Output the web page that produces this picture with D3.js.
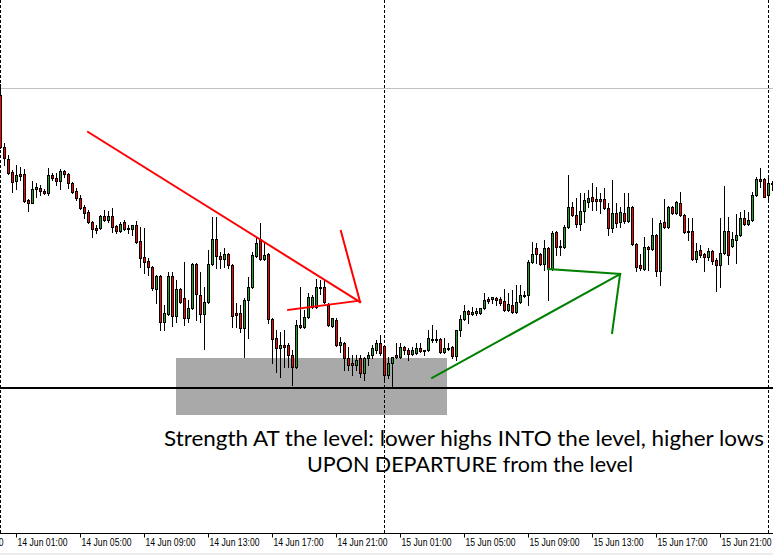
<!DOCTYPE html>
<html><head><meta charset="utf-8">
<script src="https://cdn.jsdelivr.net/npm/d3@7"></script>
<style>
html,body{margin:0;padding:0;background:#fff;}
svg{display:block;}
</style></head>
<body>
<svg id="chart" width="773" height="555"></svg>
<script>
// M15 bars, 14 Jun 00:00 .. 16 Jun 00:15 ; prices in points above 1.2000 (1 pt = 0.0001)
const openPts = [505,453,441,428,419,426,426,400,397,411,
412,409,407,425,422,419,429,426,417,409,
402,393,388,378,372,372,384,380,384,374,
369,378,372,371,375,359,343,339,333,311,
324,278,286,324,284,311,302,282,292,336,
305,286,298,336,361,344,341,346,335,287,
287,272,300,313,344,361,341,346,281,262,
252,255,255,245,233,275,273,283,293,293,
313,313,295,274,280,255,257,242,237,235,
242,227,242,245,250,257,254,225,237,245,
243,253,250,246,247,252,250,250,261,260,
261,248,252,253,244,270,281,289,286,287,
287,292,301,301,302,301,299,290,295,288,
298,305,305,338,352,346,336,352,331,368,
354,353,373,393,385,376,389,398,403,401,
401,401,392,372,387,378,387,379,393,356,
335,331,353,351,365,329,378,373,393,387,
397,385,369,369,341,350,346,343,349,340,
335,347,369,354,360,365,382,376,380,405,
421,421,405,417];
const highPts = [516,457,445,430,435,433,431,401,419,417,
415,411,432,427,427,431,430,427,418,412,
405,395,390,379,375,385,390,389,392,375,
378,380,375,375,379,373,372,342,334,325,
325,295,328,328,320,312,338,300,337,337,
328,313,350,383,383,348,352,347,336,297,
295,302,323,348,363,377,357,347,282,270,
268,270,257,250,280,313,290,307,305,321,
320,320,297,282,282,263,258,253,245,245,
245,243,248,255,260,265,255,243,243,257,
257,254,252,253,257,257,250,270,275,270,
262,262,257,254,270,285,295,290,293,292,
292,307,303,303,303,303,311,307,310,315,
315,309,340,358,357,347,360,353,369,369,
360,375,425,398,402,407,407,410,417,413,
407,412,397,420,397,393,407,407,394,357,
346,363,354,382,366,380,401,394,394,399,
408,386,382,382,357,355,347,352,350,342,
382,414,383,368,386,388,390,388,408,423,
432,422,422,419];
const lowPts = [452,435,426,408,411,420,398,389,397,403,
405,406,405,420,415,411,423,412,407,400,
391,382,377,363,367,371,379,378,368,367,
368,370,367,365,357,333,327,325,310,297,
270,270,285,274,278,297,275,278,291,280,
278,251,297,335,332,332,333,332,273,273,
268,243,262,312,343,340,340,277,237,228,
223,233,233,215,232,272,272,282,292,292,
306,297,274,273,254,248,230,230,225,230,
223,220,235,242,247,245,218,222,213,242,
242,246,240,245,246,248,245,249,258,258,
247,247,250,242,240,264,280,277,285,285,
286,291,297,297,295,295,289,289,287,287,
297,303,295,337,337,335,330,300,330,345,
345,352,372,384,373,370,378,393,390,390,
387,391,365,368,373,373,377,378,355,329,
330,330,330,350,324,315,372,372,386,386,
384,367,360,340,338,343,329,340,336,309,
313,346,336,353,337,364,375,375,379,404,
413,403,400,410];
const closePts = [453,442,427,418,425,424,399,397,411,413,
409,407,425,422,419,429,426,417,408,402,
392,387,378,371,370,384,380,384,373,369,
376,371,371,375,358,342,338,333,312,324,
278,287,324,284,311,298,282,292,336,306,
286,298,336,361,344,341,346,335,284,285,
272,300,313,345,357,341,345,281,261,252,
255,253,245,233,275,273,283,303,303,313,
312,298,275,282,255,258,242,235,235,240,
227,242,245,252,257,247,225,237,243,243,
253,250,246,250,252,249,249,262,260,261,
248,252,251,244,270,281,289,286,288,289,
292,300,299,303,300,297,290,296,288,298,
305,304,338,346,346,336,352,331,367,353,
353,373,393,385,376,389,400,402,399,399,
399,392,372,387,377,388,379,393,356,333,
332,353,351,365,329,377,373,393,387,398,
385,368,368,341,349,345,343,349,339,335,
347,369,345,361,365,382,376,380,405,421,
419,403,417,416];

// time axis labels (bar index of each label)
const tickBars   = [-12, 4, 20, 36, 52, 68, 84, 100, 116, 132, 148, 164, 180];
const tickLabels = ["13 Jun 21:00","14 Jun 01:00","14 Jun 05:00","14 Jun 09:00","14 Jun 13:00",
  "14 Jun 17:00","14 Jun 21:00","15 Jun 01:00","15 Jun 05:00","15 Jun 09:00","15 Jun 13:00",
  "15 Jun 17:00","15 Jun 21:00"];
const daySeparators = [0, 96, 192];

// drawing objects (bar index, points)
const hLevels = [{pts:511.5, color:"#c0c0c0", w:1}, {pts:212, color:"#000000", w:2}];
const zoneBox = {i0:43.9, i1:111.6, top:242, bottom:185};
const redLines = [
  {i0:21.9, p0:468, i1:89.9, p1:298},
  {i0:85.1, p0:369, i1:89.9, p1:298},
  {i0:71.9, p0:290, i1:89.1, p1:299}
];
const greenLines = [
  {i0:107.9, p0:222, i1:154.9, p1:326},
  {i0:136.9, p0:331, i1:154.9, p1:326},
  {i0:152.9, p0:267, i1:154.9, p1:326}
];
const noteLines = ["Strength AT the level: lower highs INTO the level, higher lows",
                   "UPON DEPARTURE from the level"];

const price = p => 1.2 + p / 10000;
const bars = openPts.map((o, i) => ({i, o: price(o), h: price(highPts[i]), l: price(lowPts[i]), c: price(closePts[i])}));

const svg = d3.select("#chart");
const W = 773, H = 555, axisY = 533;
const x = d3.scaleLinear().domain([0, 193]).range([0.5, 772.5]);
const y = d3.scaleLinear().domain([1.2, 1.26]).range([600, 0]);
const Y = v => Math.round(y(v));

svg.append("rect").attr("width", W).attr("height", H).attr("fill", "#fff");
svg.append("rect").attr("x", 0).attr("y", 553).attr("width", W).attr("height", 2).attr("fill", "#ececec");

// zone rectangle (background)
svg.append("rect")
  .attr("x", Math.round(x(zoneBox.i0))).attr("y", Y(price(zoneBox.top)))
  .attr("width", Math.round(x(zoneBox.i1)) - Math.round(x(zoneBox.i0)))
  .attr("height", Y(price(zoneBox.bottom)) - Y(price(zoneBox.top)))
  .attr("fill", "#a9a9a9");

// day separators
svg.append("g").selectAll("line").data(daySeparators).join("line")
  .attr("x1", d => x(d)).attr("x2", d => x(d))
  .attr("y1", 0).attr("y2", axisY)
  .attr("stroke", "#000").attr("stroke-width", 1).attr("stroke-dasharray", "3,2");

// horizontal levels
svg.append("g").selectAll("line").data(hLevels).join("line")
  .attr("x1", 0).attr("x2", W)
  .attr("y1", d => y(price(d.pts))).attr("y2", d => y(price(d.pts)))
  .attr("stroke", d => d.color).attr("stroke-width", d => d.w);

// candles
const bullColor = "#22a022", bearColor = "#ff0000";
const cg = svg.append("g");
cg.selectAll("line.wick").data(bars).join("line").attr("class", "wick")
  .attr("x1", d => x(d.i)).attr("x2", d => x(d.i))
  .attr("y1", d => Y(d.h)).attr("y2", d => Y(d.l) + 1)
  .attr("stroke", "#000").attr("stroke-width", 1);
cg.selectAll("rect.body").data(bars.filter(d => Y(d.o) !== Y(d.c))).join("rect").attr("class", "body")
  .attr("x", d => x(d.i) - 1)
  .attr("y", d => Math.min(Y(d.o), Y(d.c)) + 0.5)
  .attr("width", 2)
  .attr("height", d => Math.abs(Y(d.o) - Y(d.c)))
  .attr("fill", d => d.c > d.o ? bullColor : bearColor)
  .attr("stroke", "#000").attr("stroke-width", 1);
cg.selectAll("line.doji").data(bars.filter(d => Y(d.o) === Y(d.c))).join("line").attr("class", "doji")
  .attr("x1", d => x(d.i) - 1.5).attr("x2", d => x(d.i) + 1.5)
  .attr("y1", d => Y(d.o) + 0.5).attr("y2", d => Y(d.o) + 0.5)
  .attr("stroke", "#000").attr("stroke-width", 1);

// trend/arrow lines
function drawLines(data, color) {
  svg.append("g").selectAll("line").data(data).join("line")
    .attr("x1", d => x(d.i0)).attr("y1", d => y(price(d.p0)))
    .attr("x2", d => x(d.i1)).attr("y2", d => y(price(d.p1)))
    .attr("stroke", color).attr("stroke-width", 2).attr("stroke-linecap", "square");
}
drawLines(redLines, "#ff0000");
drawLines(greenLines, "#008000");

// time axis
const axis = d3.axisBottom(x).tickValues(tickBars)
  .tickFormat((d, k) => tickLabels[k]).tickSize(4).tickSizeOuter(0);
const ag = svg.append("g").attr("transform", `translate(0,${axisY + 0.5})`).call(axis);
ag.select(".domain").remove();
ag.selectAll(".tick line").attr("stroke", "#000").attr("transform", "translate(-0.5,0)");
ag.selectAll(".tick text")
  .attr("text-anchor", "start").attr("x", 0.5).attr("y", 5).attr("dy", "0.71em")
  .attr("fill", "#000")
  .attr("textLength", 50).attr("lengthAdjust", "spacingAndGlyphs")
  .style("font-family", "'Liberation Sans', Arial, sans-serif")
  .style("font-size", "10px");
svg.append("line").attr("x1", 0).attr("x2", W).attr("y1", axisY + 0.5).attr("y2", axisY + 0.5)
  .attr("stroke", "#000").attr("stroke-width", 1);

// annotation text
const note = svg.append("g").style("font-family", "Lato, 'Open Sans', sans-serif").style("font-size", "21px").attr("fill", "#000");
note.append("text").attr("x", 164).attr("y", 446).attr("textLength", 600).attr("lengthAdjust", "spacingAndGlyphs").text(noteLines[0]);
note.append("text").attr("x", 307).attr("y", 472).attr("textLength", 326).attr("lengthAdjust", "spacingAndGlyphs").text(noteLines[1]);
</script>
</body></html>
